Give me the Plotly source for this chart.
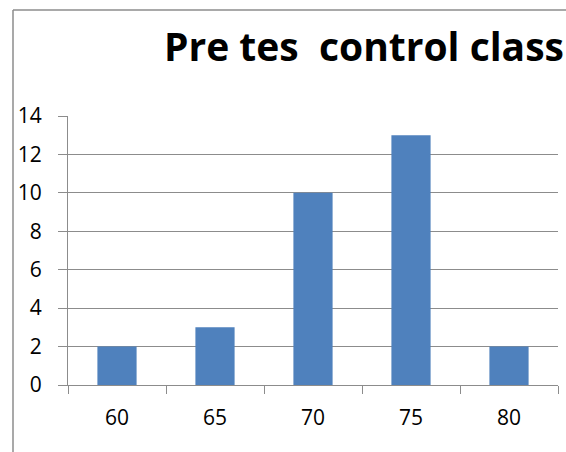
import plotly.graph_objects as go

categories = ["60", "65", "70", "75", "80"]
values = [2, 3, 10, 13, 2]
y_ticks = [0, 2, 4, 6, 8, 10, 12, 14]
title_text = "Pre tes \u00a0control class"

W, H = 566, 452
L, R, T, B = 68, 8, 116, 67
pw, ph = W - L - R, H - T - B

def px(x):
    return (x - L) / pw

def py(y):
    return (H - B - y) / ph

fig = go.Figure(go.Bar(x=categories, y=values, marker=dict(color="#4F81BD", line=dict(width=0))))

fig.update_layout(
    width=W, height=H,
    margin=dict(l=L, r=R, t=T, b=B),
    paper_bgcolor="white", plot_bgcolor="white",
    bargap=0.6,
    showlegend=False,
    font=dict(family="Open Sans", color="#000000", size=21),
    title=dict(text="<b>" + title_text + "</b>", x=164 / W, xanchor="left", xref="container",
               y=1 - 47 / H, yanchor="middle", yref="container",
               font=dict(family="Open Sans", size=39, color="#000000")),
    shapes=[
        dict(type="line", xref="paper", yref="paper", x0=px(13), x1=px(13), y0=py(10), y1=py(470),
             line=dict(color="#8C8C8C", width=1.5)),
        dict(type="line", xref="paper", yref="paper", x0=px(13), x1=px(600), y0=py(10), y1=py(10),
             line=dict(color="#8C8C8C", width=1.5)),
    ],
)
fig.update_xaxes(type="category", showline=True, linecolor="#8C8C8C", linewidth=1,
                 ticks="outside", tickson="boundaries", ticklen=8, tickcolor="#8C8C8C",
                 showgrid=False, tickfont=dict(size=21), range=[-0.5, 4.5], ticklabelstandoff=14)
fig.update_yaxes(range=[0, 14], tickvals=y_ticks, showline=True, linecolor="#8C8C8C", linewidth=1,
                 showgrid=True, gridcolor="#8C8C8C", gridwidth=1, ticks="outside", ticklen=9,
                 tickcolor="#8C8C8C", tickfont=dict(size=21), zeroline=False, ticklabelstandoff=12)

fig.write_html("out.html", config={"displayModeBar": False},
               post_script="document.body.style.margin='0';document.body.style.overflow='hidden';")
